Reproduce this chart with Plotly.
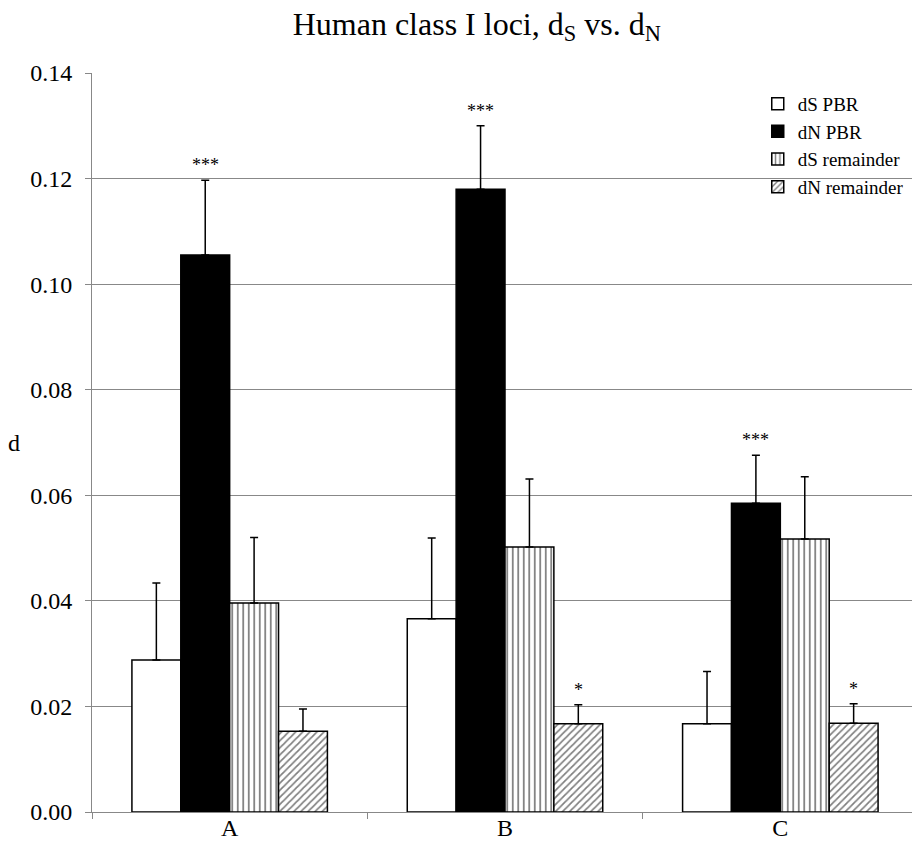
import plotly.graph_objects as go

categories = ["A", "B", "C"]
series_names = ["dS PBR", "dN PBR", "dS remainder", "dN remainder"]
ds_pbr = [0.0288, 0.0366, 0.0167]
dn_pbr = [0.1055, 0.1180, 0.0585]
ds_rem = [0.0396, 0.0502, 0.0517]
dn_rem = [0.0153, 0.0167, 0.0168]
ds_pbr_err = [0.0146, 0.0153, 0.0099]
dn_pbr_err = [0.0142, 0.0120, 0.0091]
ds_rem_err = [0.0124, 0.0129, 0.0118]
dn_rem_err = [0.0042, 0.0036, 0.0037]
# significance marks: (series index, category index, label)
sig_marks = [(1, 0, "***"), (1, 1, "***"), (1, 2, "***"), (3, 1, "*"), (3, 2, "*")]
y_ticks = [0.00, 0.02, 0.04, 0.06, 0.08, 0.10, 0.12, 0.14]

values = [ds_pbr, dn_pbr, ds_rem, dn_rem]
errors = [ds_pbr_err, dn_pbr_err, ds_rem_err, dn_rem_err]
styles = [
    dict(color="white", pattern=dict(shape="")),
    dict(color="black", pattern=dict(shape="")),
    dict(color="white", pattern=dict(shape="|", fgcolor="black", bgcolor="white", size=5.5, solidity=0.32)),
    dict(color="white", pattern=dict(shape="/", fgcolor="black", bgcolor="white", size=5, solidity=0.34)),
]

FONT = "Liberation Serif"
bargap = 0.29

fig = go.Figure()
for name, vals, errs, st in zip(series_names, values, errors, styles):
    fig.add_trace(go.Bar(
        x=categories, y=vals, name=name,
        marker=dict(color=st["color"], pattern=st["pattern"],
                    line=dict(color="black", width=1.5)),
        error_y=dict(type="data", array=errs, arrayminus=[0] * len(errs), symmetric=False,
                     color="black", thickness=1.5, width=4),
    ))

nser = len(series_names)
bw = (1 - bargap) / nser
for si, ci, label in sig_marks:
    xpos = ci + (si - (nser - 1) / 2) * bw
    ytop = values[si][ci] + errors[si][ci]
    fig.add_annotation(x=xpos, y=ytop, xref="x", yref="y", text=label, showarrow=False,
                       yanchor="bottom", yshift=3, font=dict(family=FONT, size=18, color="black"))

fig.add_annotation(x=-0.095, y=0.5, xref="paper", yref="paper", text="d", showarrow=False,
                   xanchor="center", yanchor="middle", font=dict(family=FONT, size=24, color="black"))

fig.update_layout(
    width=912, height=850,
    paper_bgcolor="white", plot_bgcolor="white",
    margin=dict(l=84, r=2, t=65, b=46, autoexpand=False),
    barmode="group", bargap=bargap, bargroupgap=0,
    font=dict(family=FONT, color="black"),
    title=dict(text="Human class I loci, d<sub>S</sub> vs. d<sub>N</sub>", x=0.514, xanchor="center",
               y=0.995, yanchor="top", font=dict(family=FONT, size=32, color="black")),
    legend=dict(x=0.806, xanchor="left", y=0.984, yanchor="top", bgcolor="rgba(0,0,0,0)",
                font=dict(family=FONT, size=19, color="black"), itemwidth=30, tracegroupgap=0),
    showlegend=True,
)
fig.update_xaxes(
    type="category", tickson="boundaries", ticks="outside", ticklen=6, tickcolor="#888",
    showline=True, linecolor="#888", linewidth=1, showgrid=False, automargin=False,
    ticklabelstandoff=-6,
    tickfont=dict(family=FONT, size=24, color="black"), range=[-0.5, 2.5],
)
fig.update_yaxes(
    range=[0, 0.14], tickvals=y_ticks, ticktext=[f"{v:.2f}" for v in y_ticks],
    ticks="outside", ticklen=6, tickcolor="#888", showline=True, linecolor="#888", linewidth=1,
    showgrid=True, gridcolor="#888", gridwidth=1, zeroline=False, automargin=False,
    ticklabelstandoff=8,
    tickfont=dict(family=FONT, size=24, color="black"),
)
fig.write_html("out.html")
